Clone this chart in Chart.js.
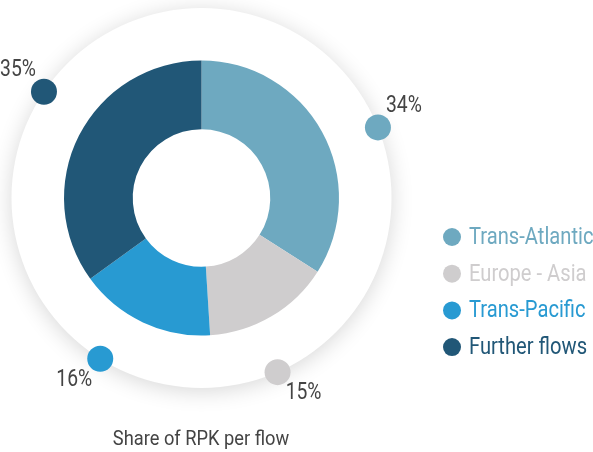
<!DOCTYPE html>
<html>
<head>
<meta charset="utf-8">
<script src="https://cdn.jsdelivr.net/npm/chart.js@4"></script>
<style>
  html, body { margin: 0; padding: 0; background: #ffffff; }
  #wrap { width: 593px; height: 452px; position: relative; }
</style>
</head>
<body>
<div id="wrap"><canvas id="grafico"></canvas></div>
<script>
// =====================================================
// DATA
// =====================================================
const categorias = ["Trans-Atlantic", "Europe - Asia", "Trans-Pacific", "Further flows"];
const valores = [34, 15, 16, 35];
const rotulos = ["34%", "15%", "16%", "35%"];
const cores = ["#6ea9c0", "#cfcdce", "#289ad2", "#215777"];
const titulo = "Share of RPK per flow";

const FONTE = '"Roboto", "Liberation Sans", sans-serif';
const CONDENSADO = 0.84; // fonte original é condensada

// texto "condensado": usa maxWidth do fillText
function textoEstreito(ctx, txt, x, y, fator = CONDENSADO) {
  const w = ctx.measureText(txt).width * fator;
  ctx.fillText(txt, x, y, w);
}

// =====================================================
// PLUGIN — CÍRCULO DE FUNDO + PONTOS + TEXTOS
// =====================================================
const decoracao = {
  id: "decoracao",
  beforeDatasetsDraw(chart) {
    const arco = chart.getDatasetMeta(0).data[0];
    if (!arco) return;
    const { x, y, outerRadius } = arco;
    const ctx = chart.ctx;
    ctx.save();
    ctx.shadowColor = "rgba(0,0,0,0.16)";
    ctx.shadowBlur = 22;
    ctx.shadowOffsetY = 3;
    ctx.fillStyle = "#ffffff";
    ctx.beginPath();
    ctx.arc(x, y, outerRadius * 1.382, 0, Math.PI * 2);
    ctx.fill();
    ctx.restore();
  },
  afterDatasetsDraw(chart) {
    const ctx = chart.ctx;
    const arcos = chart.getDatasetMeta(0).data;
    ctx.save();
    arcos.forEach((a, i) => {
      // meio do arco, girado um pouco no sentido horário
      const ang = (a.startAngle + a.endAngle) / 2 + Math.PI * 7 / 180;
      const r = a.outerRadius * 1.382;
      const px = a.x + Math.cos(ang) * r;
      const py = a.y + Math.sin(ang) * r;

      ctx.fillStyle = cores[i];
      ctx.beginPath();
      ctx.arc(px, py, 13, 0, Math.PI * 2);
      ctx.fill();

      const sx = Math.cos(ang) >= 0 ? 1 : -1;
      const sy = Math.sin(ang) >= 0 ? 1 : -1;
      ctx.fillStyle = "#444444";
      ctx.font = "23px " + FONTE;
      ctx.textAlign = "center";
      ctx.textBaseline = "middle";
      textoEstreito(ctx, rotulos[i], px + sx * 26, py + sy * 21);
    });

    // legenda
    ctx.textAlign = "left";
    ctx.textBaseline = "middle";
    ctx.font = "24px " + FONTE;
    categorias.forEach((c, i) => {
      const ly = 237 + i * 36.7;
      ctx.fillStyle = cores[i];
      ctx.beginPath();
      ctx.arc(452, ly, 9, 0, Math.PI * 2);
      ctx.fill();
      textoEstreito(ctx, c, 469, ly + 1);
    });

    // título
    ctx.fillStyle = "#444444";
    ctx.font = "21px " + FONTE;
    ctx.textAlign = "center";
    ctx.textBaseline = "alphabetic";
    textoEstreito(ctx, titulo, 201, 445, 0.87);
    ctx.restore();
  }
};

// =====================================================
// GRÁFICO
// =====================================================
new Chart(document.getElementById("grafico"), {
  type: "doughnut",
  data: {
    labels: categorias,
    datasets: [
      {
        data: valores,
        backgroundColor: cores,
        borderWidth: 0,
        hoverOffset: 0
      }
    ]
  },
  options: {
    responsive: true,
    maintainAspectRatio: false,
    animation: false,
    cutout: "50%",
    layout: {
      padding: { left: 64, top: 60, right: 254, bottom: 116 }
    },
    plugins: {
      legend: { display: false },
      title: { display: false },
      tooltip: { enabled: false }
    }
  },
  plugins: [decoracao]
});
</script>
</body>
</html>
